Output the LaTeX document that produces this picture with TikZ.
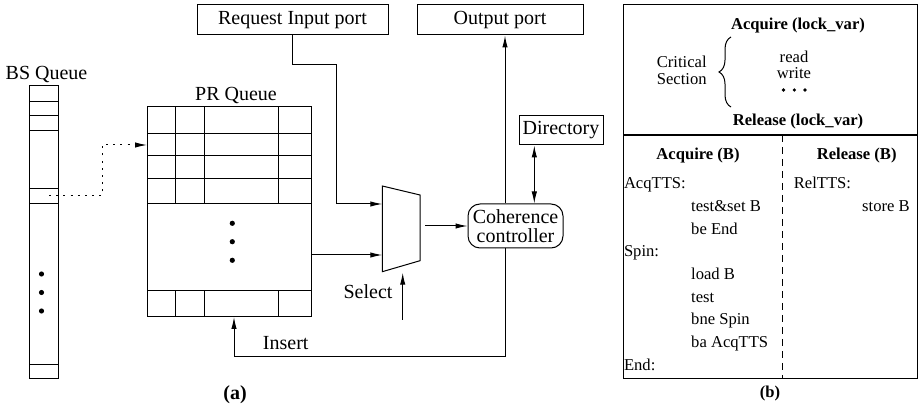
\documentclass[tikz,border=0pt]{standalone}
\usepackage{fontspec}
\setmainfont{Liberation Serif}
\usetikzlibrary{arrows.meta,decorations.pathreplacing}

\tikzset{
  port/.style={draw,inner sep=0pt,minimum height=15pt,font=\fontsize{10}{12}\selectfont},
  lbl/.style={anchor=base,inner sep=0pt,font=\fontsize{10}{12}\selectfont},
  code/.style={anchor=base west,inner sep=0pt,font=\fontsize{8.3}{10}\selectfont},
  codehead/.style={anchor=base,inner sep=0pt,font=\fontsize{8.3}{10}\selectfont\bfseries},
  bigdot/.style={circle,fill,inner sep=0pt,minimum size=2.6pt},
  smalldot/.style={circle,fill,inner sep=0pt,minimum size=1.8pt}
}

\begin{document}
\begin{tikzpicture}[x=0.5pt,y=-0.5pt,line width=0.5pt,>={Latex[length=6pt,width=2.7pt]}]
        \useasboundingbox (0,0) rectangle (919,410);

        % BS fronta vlevo
        \draw (29,86) rectangle (58,379);
        \foreach \y in {101.7,116,130.7,189,204,365}
          \draw (29,\y) -- (58,\y);
        \node[lbl] (bsname) at (46.5,80) {BS Queue};
        \node[bigdot] (bsdota) at (41.5,274) {};
        \node[bigdot] (bsdotb) at (41.5,292.5) {};
        \node[bigdot] (bsdotc) at (41.5,311) {};
        \coordinate (bsout) at (49,196);

        % PR fronta
        \draw (147,107) rectangle (311,317);
        \foreach \y in {133.3,156,178.7,204,290.7}
          \draw (147,\y) -- (311,\y);
        \foreach \x in {175.7,204.7,278} {
          \draw (\x,107) -- (\x,204);
          \draw (\x,290.7) -- (\x,317);
        }
        \node[lbl] (prname) at (236,100.5) {PR Queue};
        \node[bigdot] (prdota) at (232.3,223.3) {};
        \node[bigdot] (prdotb) at (232.3,241.7) {};
        \node[bigdot] (prdotc) at (232.3,260.3) {};
        \coordinate (prin) at (147,145);
        \coordinate (prout) at (311,255);
        \coordinate (prins) at (234,317);

        % Presun z BS do PR (tecky)
        \draw[->,dash pattern=on 1pt off 2.6pt] (bsout) -- ++(53,0) |- (prin);

        % Porty, adresar a radic
        \node[port,minimum width=95.5pt] (req) at (292.5,20) {Request Input port};
        \node[port,minimum width=83pt] (out) at (500,20) {Output port};
        \node[port,minimum width=42pt,minimum height=14.5pt] (dir) at (561,130.5) {Directory};
        \node[port,rounded corners=6pt,minimum width=47.5pt,minimum height=22pt,
              align=center,font=\fontsize{10}{9.6}\selectfont] (ctrl) at (515.5,226) {Coherence\\controller};

        % Multiplexor
        \draw (382.3,186) -- (420,195) -- (420,260.7) -- (382.3,271.7) -- cycle;
        \coordinate (muxa) at (382.3,204);
        \coordinate (muxb) at (382.3,255);
        \coordinate (muxo) at (425,226);
        \coordinate (muxs) at (402.7,272.7);
        \coordinate (sel) at (402.7,320);
        \node[lbl] (seltext) at (368,299) {Select};

        % Spoje
        \coordinate (busx) at (505,0);
        \coordinate (dirx) at (534.3,0);
        \draw[->] (req.south) |- (336.7,64.3) |- (muxa);
        \draw[->] (prout) -- (muxb);
        \draw[->] (muxo) -- (ctrl.west);
        \draw[->] (sel) -- (muxs);
        \draw[->] (ctrl.north -| busx) -- (out.south -| busx);
        \draw[<->] (dir.south -| dirx) -- (ctrl.north -| dirx);
        \draw[->] (ctrl.south -| busx) -- (505,356.7) -| (prins);
        \node[lbl] (instext) at (285.7,350) {Insert};
        \node[lbl,font=\fontsize{10}{12}\selectfont\bfseries] (capa) at (235,400) {(a)};

        % Prava cast (b)
        \draw (623,5) rectangle (917,379);
        \draw[line width=1pt] (623,135) -- (917,135);
        \draw[dash pattern=on 3.5pt off 2.5pt] (782,135) -- (782,379);
        \node[codehead] (acqlock) at (798,30) {Acquire (lock\_var)};
        \node[codehead] (rellock) at (798,125.5) {Release (lock\_var)};
        \node[code,anchor=base] (crita) at (681.7,67.5) {Critical};
        \node[code,anchor=base] (critb) at (681.7,84.5) {Section};
        \draw[decorate,decoration={brace,amplitude=6pt}] (731,107) -- (731,37);
        \node[code,anchor=base] (rd) at (794,62.5) {read};
        \node[code,anchor=base] (wr) at (794,78.5) {write};
        \node[smalldot] (csdota) at (783.5,90) {};
        \node[smalldot] (csdotb) at (794.3,90) {};
        \node[smalldot] (csdotc) at (805,90) {};

        % Kod zamku
        \node[codehead] (acqb) at (698,160) {Acquire (B)};
        \node[codehead] (relb) at (856.7,160) {Release (B)};
        \node[code] (la) at (623.5,189) {AcqTTS:};
        \node[code] (lb) at (690.7,211.7) {test\&set B};
        \node[code] (lc) at (690.7,234.3) {be End};
        \node[code] (ld) at (623.5,257) {Spin:};
        \node[code] (le) at (690.7,279.6) {load B};
        \node[code] (lf) at (690.7,302.3) {test};
        \node[code] (lg) at (690.7,325) {bne Spin};
        \node[code] (lh) at (690.7,347.6) {ba AcqTTS};
        \node[code] (li) at (623.5,370.3) {End:};
        \node[code] (ra) at (793.3,189) {RelTTS:};
        \node[code] (rb) at (861.7,211.7) {store B};
        \node[codehead] (capb) at (770,398) {(b)};
      \end{tikzpicture}
\end{document}
